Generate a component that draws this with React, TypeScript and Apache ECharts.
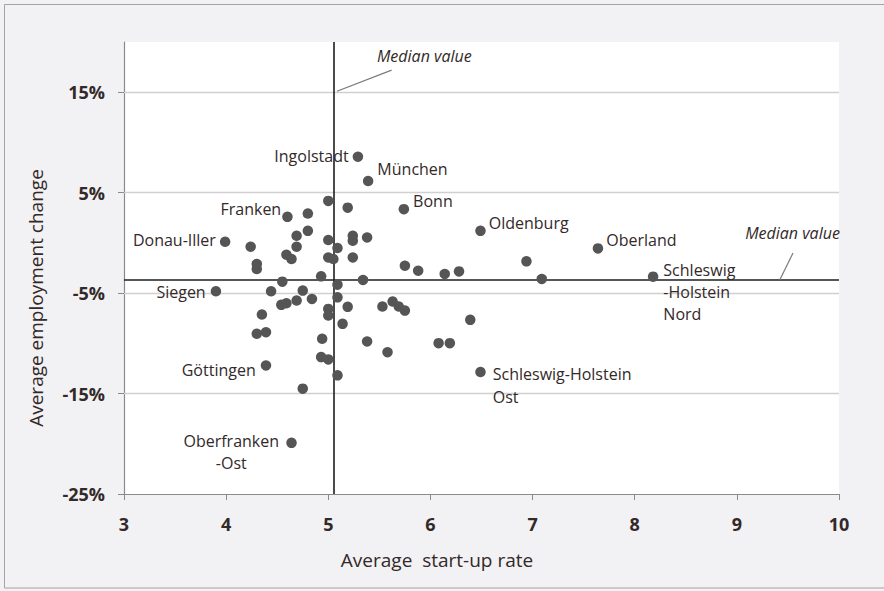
import React, { useEffect, useRef } from "react";
import * as echarts from "echarts";

// ---- data ----
const REGION_NAMES: string[] = [
  "Ingolstadt", "München", "", "", "Bonn", "Franken", "", "", "", "",
  "", "", "", "", "", "Donau-Iller", "", "", "", "",
  "", "", "", "", "", "", "", "", "", "",
  "Oldenburg", "Oberland", "Schleswig-Holstein Nord", "", "", "", "", "Siegen", "", "",
  "", "", "", "", "", "", "", "", "", "",
  "", "", "", "", "", "", "", "", "", "",
  "", "", "", "", "Göttingen", "", "", "Oberfranken-Ost", "Schleswig-Holstein Ost",
];
const START_UP_RATE: number[] = [
  5.29, 5.39, 5.0, 5.19, 5.74, 4.6, 4.8, 4.8, 4.69, 4.69,
  5.0, 5.09, 5.24, 5.24, 5.38, 3.99, 4.24, 4.59, 4.64, 4.3,
  4.3, 5.0, 5.05, 5.24, 5.75, 5.88, 6.14, 6.28, 6.94, 7.09,
  6.49, 7.64, 8.18, 4.93, 4.55, 5.09, 5.34, 3.9, 4.44, 4.75,
  5.09, 4.84, 4.69, 4.59, 4.54, 5.0, 5.0, 5.19, 5.53, 5.63,
  5.69, 5.75, 4.35, 5.14, 6.39, 4.3, 4.39, 4.94, 5.38, 5.58,
  6.08, 6.19, 4.93, 5.0, 4.39, 5.09, 4.75, 4.64, 6.49,
];
const EMPLOYMENT_CHANGE: number[] = [
  8.58, 6.16, 4.18, 3.51, 3.36, 2.59, 2.92, 1.2, 0.71, -0.38,
  0.28, -0.51, 0.71, 0.21, 0.54, 0.11, -0.38, -1.18, -1.61, -2.1,
  -2.6, -1.45, -1.61, -1.45, -2.27, -2.77, -3.09, -2.84, -1.84, -3.59,
  1.2, -0.55, -3.36, -3.33, -3.86, -4.16, -3.69, -4.82, -4.82, -4.75,
  -5.42, -5.58, -5.74, -6.01, -6.17, -6.57, -7.23, -6.37, -6.34, -5.84,
  -6.34, -6.74, -7.13, -8.06, -7.66, -9.05, -8.89, -9.55, -9.81, -10.88,
  -9.98, -9.98, -11.37, -11.6, -12.2, -13.19, -14.51, -19.91, -12.86,
];
const X_TICKS: number[] = [3, 4, 5, 6, 7, 8, 9, 10];
const Y_TICKS: number[] = [-25, -15, -5, 5, 15];
const Y_MAX = 20;
const MEDIAN_START_UP = 5.05;
const MEDIAN_EMPLOYMENT = -3.7;
const MEDIAN_LABEL = "Median value";
const X_TITLE = "Average  start-up rate";
const Y_TITLE = "Average employment change";

// ---- label layout (styles/positions, not data) ----
const LABEL_LAYOUT: Record<string, any> = {
  Ingolstadt: { position: "left", distance: 4, offset: [0, -1] },
  "München": { position: "right", distance: 4, offset: [0, -12] },
  Bonn: { position: "right", distance: 4, offset: [0, -8] },
  Oldenburg: { position: "right", distance: 3, offset: [0, -8] },
  Oberland: { position: "right", distance: 3, offset: [0, -8] },
  "Schleswig-Holstein Nord": {
    position: "right", distance: 5, offset: [0, 15], lineHeight: 22,
    formatter: "Schleswig\n-Holstein\nNord",
  },
  "Schleswig-Holstein Ost": {
    position: "right", distance: 7, offset: [0, 13], lineHeight: 23,
    formatter: "Schleswig-Holstein\nOst",
  },
  Franken: { position: "left", distance: 1, offset: [0, -8] },
  "Donau-Iller": { position: "left", distance: 4, offset: [0, -2] },
  Siegen: { position: "left", distance: 5, offset: [0, 1] },
  "Göttingen": { position: "left", distance: 5, offset: [0, 5] },
  "Oberfranken-Ost": {
    position: "left", distance: 0, offset: [-55, 9], align: "center", lineHeight: 22,
    formatter: "Oberfranken\n-Ost",
  },
};

const TEXT_COLOR = "#332929";
const FONT = "'Open Sans', 'Noto Sans', sans-serif";

export default function App() {
  const ref = useRef<HTMLDivElement>(null);

  useEffect(() => {
    document.body.style.margin = "0";
    if (!ref.current) return;
    const chart = echarts.init(ref.current, undefined, { renderer: "svg" });

    const data = START_UP_RATE.map((x, i) => {
      const name = REGION_NAMES[i];
      const item: any = { value: [x, EMPLOYMENT_CHANGE[i]], name };
      if (name && LABEL_LAYOUT[name]) {
        item.label = { show: true, ...LABEL_LAYOUT[name] };
      }
      return item;
    });

    const leaderStyle = { color: "#7a7a7a", width: 1.2, type: "solid" };
    const medianStyle = { color: "#1e1e1e", width: 1.6, type: "solid" };
    const gridStyle = { color: "#d2cfd2", width: 1.3, type: "solid" };

    const gridLines = Y_TICKS.filter((v) => v > Y_TICKS[0]).map((v) => ({
      yAxis: v,
      lineStyle: gridStyle,
    }));

    chart.setOption({
      animation: false,
      backgroundColor: "#f2f1f3",
      graphic: [
        {
          type: "rect",
          silent: true,
          shape: { x: 4.5, y: 4.5, width: 900, height: 583.5 },
          style: { fill: "none", stroke: "#a3a3a3", lineWidth: 1 },
        },
        {
          type: "text",
          x: 36,
          y: 298,
          rotation: Math.PI / 2,
          style: {
            text: Y_TITLE,
            fill: TEXT_COLOR,
            font: `19px ${FONT}`,
            align: "center",
            verticalAlign: "middle",
          },
        },
        {
          type: "text",
          x: 437,
          y: 560,
          style: {
            text: X_TITLE,
            fill: TEXT_COLOR,
            font: `19px ${FONT}`,
            align: "center",
            verticalAlign: "middle",
          },
        },
      ],
      grid: {
        left: 124,
        top: 42,
        width: 715,
        height: 452,
        show: true,
        backgroundColor: "#ffffff",
        borderWidth: 0,
      },
      xAxis: {
        type: "value",
        min: X_TICKS[0],
        max: X_TICKS[X_TICKS.length - 1],
        interval: 1,
        axisLine: { show: true, onZero: false, lineStyle: { color: "#8a8a8a", width: 1.2 } },
        axisTick: { show: true, length: 6, lineStyle: { color: "#8a8a8a" } },
        axisLabel: {
          margin: 21,
          color: TEXT_COLOR,
          fontSize: 18,
          fontWeight: "bold",
          fontFamily: FONT,
        },
        splitLine: { show: false },
      },
      yAxis: {
        type: "value",
        min: Y_TICKS[0],
        max: Y_MAX,
        axisLine: { show: true, onZero: false, lineStyle: { color: "#8a8a8a", width: 1.2 } },
        axisTick: {
          show: true,
          length: 6,
          customValues: Y_TICKS,
          lineStyle: { color: "#8a8a8a" },
        },
        axisLabel: {
          customValues: Y_TICKS,
          margin: 19,
          color: TEXT_COLOR,
          fontSize: 18,
          fontWeight: "bold",
          fontFamily: FONT,
          formatter: (v: number) => `${v}%`,
        },
        splitLine: { show: false },
      },
      series: [
        {
          type: "scatter",
          symbolSize: 10.5,
          itemStyle: { color: "#555555", opacity: 1 },
          label: {
            show: false,
            color: TEXT_COLOR,
            fontSize: 16,
            fontFamily: FONT,
            formatter: "{b}",
          },
          data,
          z: 3,
          markLine: {
            silent: true,
            symbol: ["none", "none"],
            label: { show: false },
            z: 2,
            data: [
              ...gridLines,
              { xAxis: MEDIAN_START_UP, lineStyle: medianStyle },
              { yAxis: MEDIAN_EMPLOYMENT, lineStyle: medianStyle },
              [
                { coord: [5.085, 15.1], lineStyle: leaderStyle },
                { coord: [5.62, 17.2] },
              ],
              [
                { coord: [9.42, MEDIAN_EMPLOYMENT], lineStyle: leaderStyle },
                { coord: [9.55, -1.0] },
              ],
            ],
          },
          markPoint: {
            silent: true,
            symbol: "circle",
            symbolSize: 1,
            itemStyle: { color: "rgba(0,0,0,0)" },
            label: {
              show: true,
              position: "inside",
              formatter: MEDIAN_LABEL,
              color: TEXT_COLOR,
              fontStyle: "italic",
              fontSize: 16,
              fontFamily: FONT,
            },
            data: [{ coord: [5.94, 18.6] }, { coord: [9.545, 0.99] }],
          },
        },
      ],
    });

    return () => chart.dispose();
  }, []);

  return <div ref={ref} style={{ width: 884, height: 591 }} />;
}
